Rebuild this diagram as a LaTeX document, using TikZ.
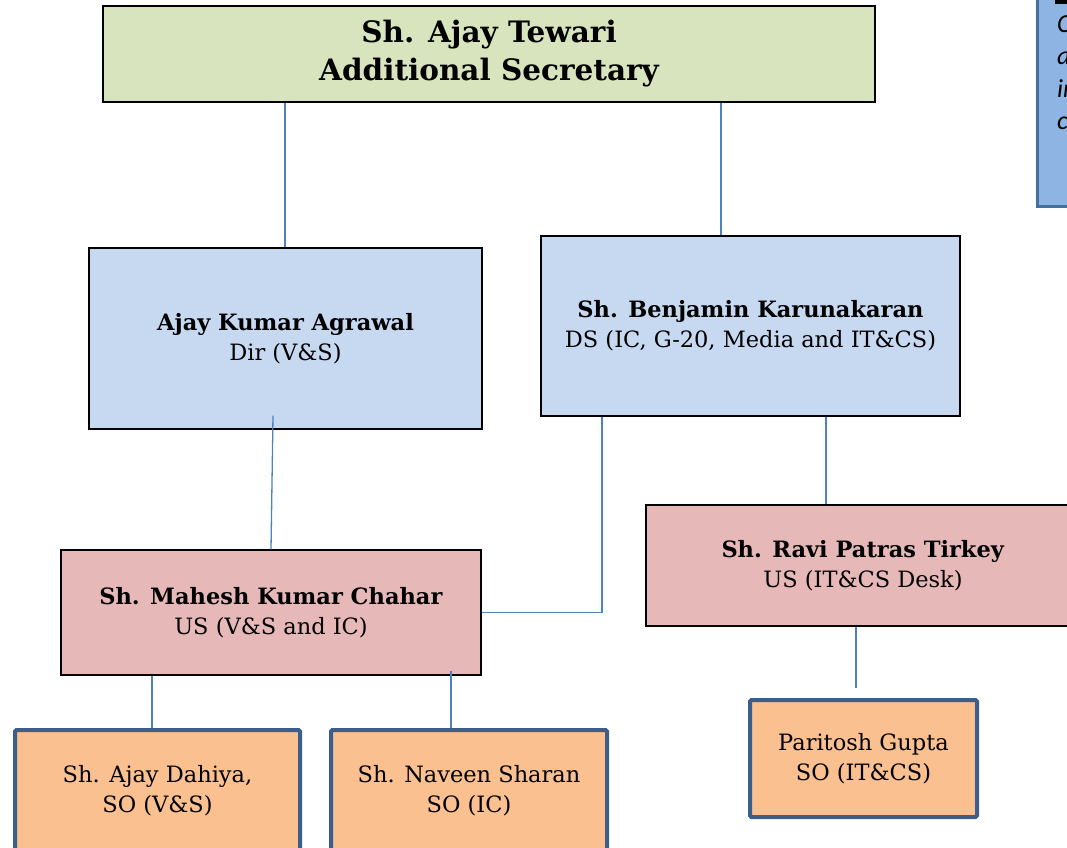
\documentclass[tikz,border=0pt]{standalone}
\usepackage{fontspec}
\setmainfont{DejaVu Serif}
\newfontfamily\notefont{Carlito}
\usetikzlibrary{positioning,calc}
\definecolor{headgreen}{HTML}{D7E4BD}
\definecolor{dirblue}{HTML}{C6D9F1}
\definecolor{uspink}{HTML}{E6B9B8}
\definecolor{soorange}{HTML}{FAC090}
\definecolor{soframe}{HTML}{3B5E8C}
\definecolor{linkblue}{HTML}{4F81BD}
\definecolor{notefill}{HTML}{8DB4E2}
\definecolor{noteframe}{HTML}{41719C}
\tikzset{
    box/.style ={rectangle, draw=black, line width=1.3pt, align=center, inner sep=0pt,
                 font=\fontsize{22.5}{30}\selectfont},
    headbox/.style={box, fill=headgreen, font=\fontsize{29.5}{38}\selectfont\bfseries},
    dirbox/.style={box, fill=dirblue},
    usbox/.style={box, fill=uspink},
    sobox/.style={box, fill=soorange, draw=soframe, line width=4pt, rounded corners=1.5pt},
    link/.style={draw=linkblue, line width=1.3pt}
}

\begin{document}
\begin{tikzpicture}[x=1pt,y=-1pt]
\useasboundingbox (0,0) rectangle (1067,847);

% note box, cut by the page edge
\draw[fill=notefill, draw=noteframe, line width=3pt] (1037,-10) rectangle (1130,206);
\fill (1055,0) rectangle (1070,4);
\node[anchor=north west, inner sep=0pt, align=left, font=\fontsize{26}{32.5}\notefont\itshape] (note) at (1057,15) {C\\a\\in\\c};

\node[headbox, minimum width=772pt, minimum height=96pt] (as) at (489,54) {Sh. Ajay Tewari\\Additional Secretary};

\node[dirbox, minimum width=393pt, minimum height=181pt] (dir) at (285.5,338.5) {\textbf{Ajay Kumar Agrawal}\\Dir (V\&S)};
\node[dirbox, minimum width=419pt, minimum height=180pt] (ds) at (750.5,326) {\textbf{Sh. Benjamin Karunakaran}\\DS (IC, G-20, Media and IT\&CS)};

\node[usbox, minimum width=420pt, minimum height=125pt] (usvs) at (271,612.5) {\textbf{Sh. Mahesh Kumar Chahar}\\US (V\&S and IC)};
\node[usbox, minimum width=434pt, minimum height=121pt] (usit) at (863,565.5) {\textbf{Sh. Ravi Patras Tirkey}\\US (IT\&CS Desk)};

\node[sobox, minimum width=285pt, minimum height=122pt] (sovs) at (157.5,791) {Sh. Ajay Dahiya,\\SO (V\&S)};
\node[sobox, minimum width=276pt, minimum height=122pt] (soic) at (469,791) {Sh. Naveen Sharan\\SO (IC)};
\node[sobox, minimum width=227pt, minimum height=117pt] (soit) at (863.5,758.5) {Paritosh Gupta\\SO (IT\&CS)};

% connectors
\draw[link] ([xshift=-0.5pt]dir.north) coordinate (a0) -- (a0 |- as.south);
\draw[link] ([xshift=-29.5pt]ds.north) coordinate (a1) -- (a1 |- as.south);
\draw[link] ([shift={(-12.5pt,14pt)}]dir.south) -- (usvs.north);
\draw[link] ([xshift=-148.5pt]ds.south) |- (usvs.east);
\draw[link] ([xshift=75.5pt]ds.south) coordinate (a2) -- (a2 |- usit.north);
\draw[link] ([xshift=-119pt]usvs.south) coordinate (a3) -- (a3 |- sovs.north);
\draw[link] ([shift={(180pt,5pt)}]usvs.south) coordinate (a4) -- (a4 |- soic.north);
\draw[link] ([xshift=-7pt]usit.south) coordinate (a5) -- ([yshift=10pt]a5 |- soit.north);
\end{tikzpicture}
\end{document}
